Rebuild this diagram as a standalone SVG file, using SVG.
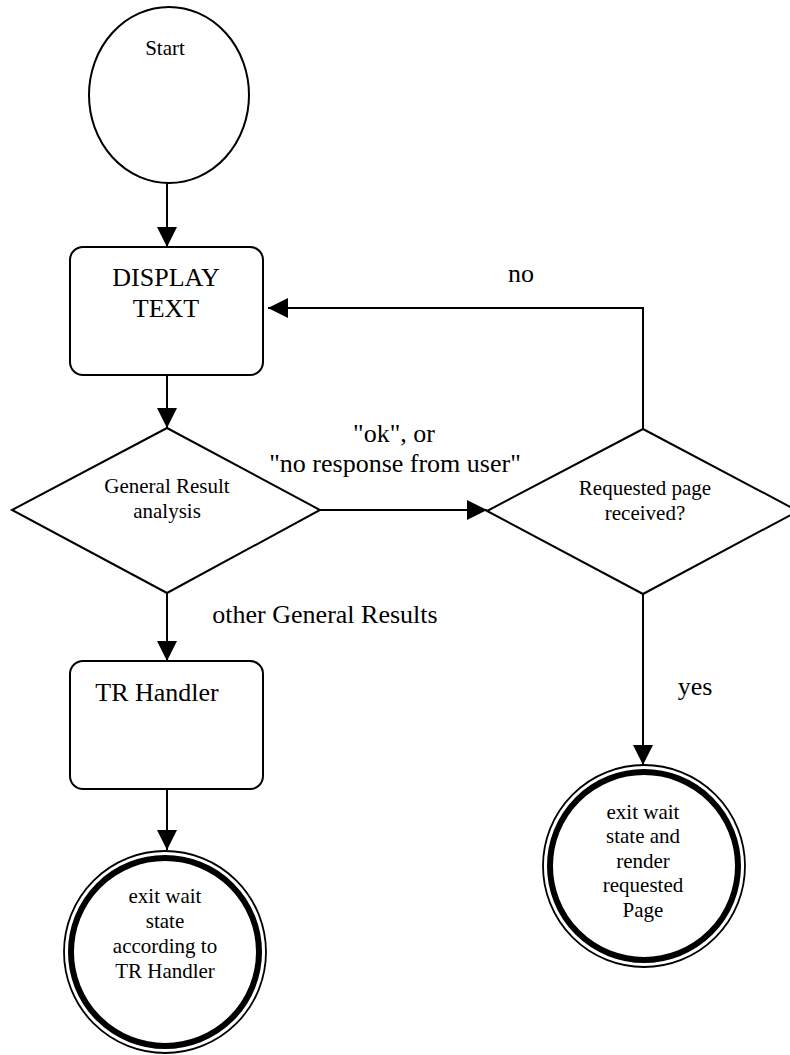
<svg xmlns="http://www.w3.org/2000/svg" width="790" height="1055" viewBox="0 0 790 1055">
<style>
.shape{fill:#fff;stroke:#000;stroke-width:2}
.conn{fill:none;stroke:#000;stroke-width:2}
text{font-family:"Liberation Serif","Times New Roman",serif;fill:#000;text-anchor:middle}
.s{font-size:21px}
.l{font-size:26px}
.ring{fill:none;stroke:#000}
</style>
<defs>
<marker id="arr" markerUnits="userSpaceOnUse" markerWidth="20" markerHeight="20" refX="20" refY="10" orient="auto">
<path d="M0,0 L20,10 L0,20 z" fill="#000"/>
</marker>
</defs>
<rect width="790" height="1055" fill="#fff"/>
<g id="connectors">
<line class="conn" x1="167" y1="183" x2="167" y2="247" marker-end="url(#arr)"/>
<line class="conn" x1="167" y1="375" x2="167" y2="428" marker-end="url(#arr)"/>
<line class="conn" x1="320" y1="510" x2="487" y2="510" marker-end="url(#arr)"/>
<polyline class="conn" points="643,429 643,308 268,308" marker-end="url(#arr)"/>
<line class="conn" x1="167" y1="593" x2="167" y2="661" marker-end="url(#arr)"/>
<line class="conn" x1="167" y1="789" x2="167" y2="850" marker-end="url(#arr)"/>
<line class="conn" x1="643" y1="594" x2="643" y2="765" marker-end="url(#arr)"/>
<text class="l" x="394" y="442">"ok", or</text>
<text class="l" x="395" y="472">"no response from user"</text>
<text class="l" x="521" y="282">no</text>
<text class="l" x="325" y="623">other General Results</text>
<text class="l" x="695" y="695">yes</text>
</g>
<g id="start">
<ellipse class="shape" cx="169" cy="95" rx="80" ry="88" stroke-width="1.5"/>
<text class="s" x="165" y="55">Start</text>
</g>
<g id="display-text">
<rect class="shape" x="70" y="247" width="193" height="128" rx="13"/>
<text class="l" x="166" y="286">DISPLAY</text>
<text class="l" x="166" y="317">TEXT</text>
</g>
<g id="general-result">
<polygon class="shape" points="167,428 320,510 167,593 12,510"/>
<text class="s" x="167" y="493">General Result</text>
<text class="s" x="167" y="518">analysis</text>
</g>
<g id="requested-page">
<polygon class="shape" points="643,429 798,511 643,594 487,511"/>
<text class="s" x="645" y="495">Requested page</text>
<text class="s" x="645" y="520">received?</text>
</g>
<g id="tr-handler">
<rect class="shape" x="70" y="661" width="193" height="128" rx="13"/>
<text class="l" x="157" y="701">TR Handler</text>
</g>
<g id="exit-tr">
<circle cx="165" cy="952" r="101" fill="#fff" class="ring" stroke-width="1.8"/>
<circle cx="165" cy="952" r="94" class="ring" stroke-width="6"/>
<text class="s" x="165" y="903">exit wait</text>
<text class="s" x="165" y="928">state</text>
<text class="s" x="165" y="953">according to</text>
<text class="s" x="165" y="978">TR Handler</text>
</g>
<g id="exit-page">
<circle cx="644" cy="866" r="101" fill="#fff" class="ring" stroke-width="1.8"/>
<circle cx="644" cy="866" r="94" class="ring" stroke-width="6"/>
<text class="s" x="643" y="819">exit wait</text>
<text class="s" x="643" y="843">state and</text>
<text class="s" x="643" y="868">render</text>
<text class="s" x="643" y="892">requested</text>
<text class="s" x="643" y="917">Page</text>
</g>
</svg>
